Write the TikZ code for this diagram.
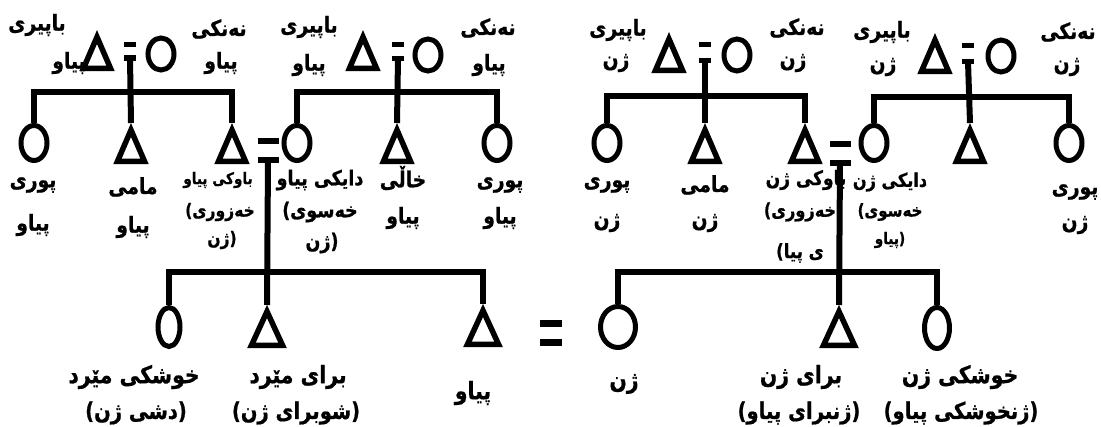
\documentclass[tikz,border=0pt]{standalone}
\usepackage{fontspec}
\newfontfamily\ku[Script=Arabic, FakeStretch=0.85, FakeBold=0.8]{DejaVu Sans}
\newfontfamily\kl[FakeStretch=0.85, FakeBold=0.8]{DejaVu Sans}
\TeXXeTstate=1
\newcommand\rl[1]{\beginR #1\endR}
\newcommand\po{{\kl(}}
\newcommand\pc{{\kl)}}
\usetikzlibrary{shapes.geometric}
\tikzset{
  ln/.style={line width=6pt, line join=miter},
  circ/.style={ellipse, draw, line width=5pt, inner sep=0pt, minimum width=26pt, minimum height=32pt},
  bar/.style={rectangle, fill=black, inner sep=0pt, minimum width=12pt, minimum height=5.5pt},
  fs/.style={font=\ku\bfseries\fontsize{#1}{#1}\selectfont},
  lbl/.style={fs=22, inner sep=0pt},
  slbl/.style={fs=18.3, inner sep=0pt},
  blbl/.style={fs=24, inner sep=0pt},
  tri/.pic={\coordinate (-top) at (0,0);
    \draw[line width=5.5pt, line join=miter] (0,7) -- (13.5,38.25) -- (-13.5,38.25) -- cycle;},
  btri/.pic={\coordinate (-top) at (0,0);
    \draw[line width=5.5pt, line join=miter] (0,6.5) -- (15.5,40.25) -- (-15.5,40.25) -- cycle;},
}
\begin{document}
\begin{tikzpicture}[x=1pt,y=-1pt]
\useasboundingbox (0,0) rectangle (1101,426);
% ---------- labels ----------
\node[lbl] (l1) at (37,25) {\rl{باپیری}};
\node[lbl] (l2) at (69,63) {\rl{پیاو}};
\node[lbl] (l3) at (219,29) {\rl{نەنکی}};
\node[lbl] (l4) at (221,63) {\rl{پیاو}};
\node[lbl] (l5) at (309,27) {\rl{باپیری}};
\node[lbl] (l6) at (309,65) {\rl{پیاو}};
\node[lbl] (l7) at (488,28) {\rl{نەنکی}};
\node[lbl] (l8) at (489,65) {\rl{پیاو}};
\node[lbl] (l9) at (618,30) {\rl{باپیری}};
\node[lbl] (l10) at (616,63) {\rl{ژن}};
\node[lbl] (l11) at (797,28) {\rl{نەنکی}};
\node[lbl] (l12) at (793,63) {\rl{ژن}};
\node[lbl] (l13) at (882,32) {\rl{باپیری}};
\node[lbl] (l14) at (883,67) {\rl{ژن}};
\node[lbl] (l15) at (1068,32) {\rl{نەنکی}};
\node[lbl] (l16) at (1067,67) {\rl{ژن}};
% middle row
\node[lbl] (m1) at (33,185) {\rl{پوری}};
\node[lbl] (m2) at (33,225) {\rl{پیاو}};
\node[lbl] (m3) at (133,187) {\rl{مامی}};
\node[lbl] (m4) at (133,227) {\rl{پیاو}};
\node[slbl, fs=16] (m5) at (218,180) {\rl{باوکی پیاو}};
\node[slbl] (m6) at (220,212) {\po\rl{خەزوری}};
\node[slbl] (m7) at (222,240) {\rl{ژن}\pc};
\node[lbl, fs=20.6] (m8) at (320,180) {\rl{دایکی پیاو}};
\node[lbl, fs=20.6] (m9) at (320,212) {\po\rl{خەسوی}};
\node[lbl, fs=20.6] (m10) at (322,243) {\rl{ژن}\pc};
\node[lbl] (m11) at (403,178) {\rl{خاڵی}};
\node[lbl] (m12) at (403,218) {\rl{پیاو}};
\node[lbl] (m13) at (500,185) {\rl{پوری}};
\node[lbl] (m14) at (500,218) {\rl{پیاو}};
\node[lbl] (m15) at (607,185) {\rl{پوری}};
\node[lbl] (m16) at (607,223) {\rl{ژن}};
\node[lbl] (m17) at (705,185) {\rl{مامی}};
\node[lbl] (m18) at (705,223) {\rl{ژن}};
\node[lbl, fs=20] (m19) at (806,180) {\rl{باوکی ژن}};
\node[slbl, fs=19] (m20) at (800,212) {\po\rl{خەزوری}};
\node[slbl, fs=19.5] (m21) at (800,253) {\po\rl{ی پیا}};
\node[slbl, fs=19] (m22) at (890,182) {\rl{دایکی ژن}};
\node[slbl, fs=17.7] (m23) at (890,212) {\po\rl{خەسوی}};
\node[slbl, fs=16] (m24) at (890,240) {\rl{پیاو}\pc};
\node[lbl] (m25) at (1075,192) {\rl{پوری}};
\node[lbl] (m26) at (1075,225) {\rl{ژن}};
% bottom row
\node[blbl] (b1) at (134,377) {\rl{خوشکی مێرد}};
\node[blbl, fs=23] (b2) at (136,413) {\po\rl{دشی ژن}\pc};
\node[blbl] (b3) at (298,377) {\rl{برای مێرد}};
\node[blbl, fs=23] (b4) at (296,413) {\po\rl{شوبرای ژن}\pc};
\node[blbl] (b5) at (473,393) {\rl{پیاو}};
\node[blbl] (b6) at (624,384) {\rl{ژن}};
\node[blbl] (b7) at (801,377) {\rl{برای ژن}};
\node[blbl, fs=23] (b8) at (799,413) {\po\rl{ژنبرای پیاو}\pc};
\node[blbl] (b9) at (960,377) {\rl{خوشکی ژن}};
\node[blbl, fs=23] (b10) at (961,413) {\po\rl{ژنخوشکی پیاو}\pc};
% ---------- top row people ----------
\pic (P1) at (97,30) {tri};
\node[bar] (q1a) at (130,44.5) {};
\node[bar] (q1b) at (130,58) {};
\node[circ] (P2) at (161,54) {};
\pic (P3) at (363,30) {tri};
\node[bar] (q2a) at (398,44.5) {};
\node[bar] (q2b) at (398,58.5) {};
\node[circ] (P4) at (428,55) {};
\pic (P5) at (669,32) {tri};
\node[bar] (q3a) at (705,44.5) {};
\node[bar] (q3b) at (705,60.5) {};
\node[circ] (P6) at (737,55) {};
\pic (P7) at (935,33) {tri};
\node[bar] (q4a) at (968,45.5) {};
\node[bar] (q4b) at (968,61.5) {};
\node[circ] (P8) at (1001,56) {};
% ---------- middle row people ----------
\node[circ, minimum height=35pt] (A1) at (34,143) {};
\pic (A2) at (131,123) {tri};
\pic (A3) at (232,123) {tri};
\node[bar, minimum width=21pt] (qma) at (268,141) {};
\node[bar, minimum width=21pt] (qmb) at (268,160) {};
\node[circ, minimum height=35pt] (B1) at (297,143) {};
\pic (B2) at (397,123) {tri};
\node[circ, minimum height=35pt] (B3) at (497,143) {};
\node[circ, minimum height=35pt] (D1) at (607,143) {};
\pic (D2) at (705,123) {tri};
\pic (D3) at (805,123) {tri};
\node[bar, minimum width=21pt] (qna) at (840,144) {};
\node[bar, minimum width=21pt] (qnb) at (840,163) {};
\node[circ, minimum height=35pt] (E1) at (874,143) {};
\pic (E2) at (970,123) {tri};
\node[circ, minimum height=35pt] (E3) at (1069,143) {};
% ---------- bottom row people ----------
\node[circ, minimum width=22pt, minimum height=39pt] (C1) at (169,327) {};
\pic (C2) at (267,305) {btri};
\pic (C3) at (483,304) {btri};
\node[bar, minimum width=22pt, minimum height=7pt] (qba) at (551,323.5) {};
\node[bar, minimum width=22pt, minimum height=7pt] (qbb) at (551,342.5) {};
\node[circ, minimum width=35pt, minimum height=41pt] (F1) at (618,327) {};
\pic (F2) at (839,305) {btri};
\node[circ, minimum width=25pt, minimum height=41pt] (F3) at (937,328) {};
% ---------- connectors ----------
\coordinate (h1) at (130,92);
\draw[ln] (q1b.center) -- (A2-top);
\draw[ln] (A1.north) |- (h1) -| (A3-top);
\coordinate (h2) at (397,92);
\draw[ln] (q2b.center) -- (B2-top);
\draw[ln] (B1.north) |- (h2) -| (B3.north);
\coordinate (h3) at (705,96);
\draw[ln] (q3b.center) -- (D2-top);
\draw[ln] (D1.north) |- (h3) -| (D3-top);
\coordinate (h4) at (970,97);
\draw[ln] (q4b.center) -- (E2-top);
\draw[ln] (E1.north) |- (h4) -| (E3.north);
\coordinate (h5) at (267,272);
\draw[ln] (qmb.center) -- (C2-top);
\draw[ln] (C1.north) |- (h5) -| (C3-top);
\coordinate (h6) at (839,272);
\draw[ln] (qnb.center) -- (F2-top);
\draw[ln] (F1.north) |- (h6) -| (F3.north);
\end{tikzpicture}
\end{document}
